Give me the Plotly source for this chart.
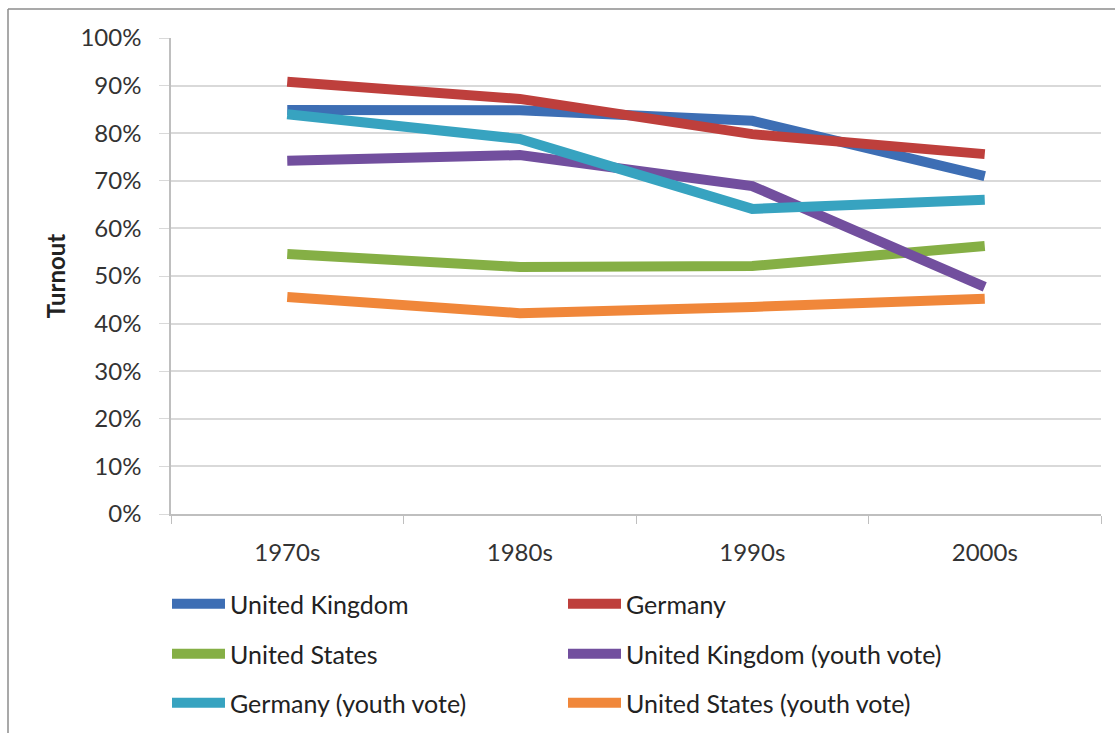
import plotly.graph_objects as go

decades = ["1970s", "1980s", "1990s", "2000s"]
uk = [0.849, 0.848, 0.826, 0.710]
germany = [0.908, 0.872, 0.798, 0.756]
us = [0.546, 0.519, 0.521, 0.563]
uk_youth = [0.742, 0.754, 0.689, 0.477]
germany_youth = [0.840, 0.788, 0.641, 0.660]
us_youth = [0.456, 0.422, 0.435, 0.452]

series_names = ["United Kingdom", "Germany", "United States",
                "United Kingdom (youth vote)", "Germany (youth vote)",
                "United States (youth vote)"]
series_values = [uk, germany, us, uk_youth, germany_youth, us_youth]
colors = ["#3D6EB4", "#BE3F3C", "#85AF45", "#724F9E", "#37A3C0", "#F0873A"]
legend_ids = ["legend", "legend", "legend2", "legend2", "legend3", "legend3"]

FONT = "Lato"
W, H = 1115, 733
L, R, T, B = 171, 14, 38, 219
pw = W - L - R
ph = H - T - B

def px_x(px):
    return (px - L) / pw

def px_y(py):
    return (H - B - py) / ph

fig = go.Figure()
for name, vals, c, lg in zip(series_names, series_values, colors, legend_ids):
    fig.add_trace(go.Scatter(
        x=decades, y=vals, name=name, mode="lines",
        line=dict(color=c, width=10), legend=lg,
    ))

leg_common = dict(orientation="h", xanchor="left", yanchor="middle",
                  xref="container", yref="container",
                  entrywidth=328, entrywidthmode="pixels", itemwidth=53,
                  font=dict(family=FONT, size=25, color="#222222"),
                  bgcolor="rgba(0,0,0,0)", traceorder="normal")
row_y = [604, 654, 703]
leg_x = 167 / W

fig.update_layout(
    width=W, height=H,
    margin=dict(l=L, r=R, t=T, b=B, autoexpand=False),
    paper_bgcolor="white", plot_bgcolor="white",
    font=dict(family=FONT, size=24, color="#333333"),
    showlegend=True,
    legend=dict(x=leg_x, y=(H - row_y[0]) / H, **leg_common),
    legend2=dict(x=leg_x, y=(H - row_y[1]) / H, **leg_common),
    legend3=dict(x=leg_x, y=(H - row_y[2]) / H, **leg_common),
    xaxis=dict(
        range=[-0.5, 3.5], showgrid=False, showline=True,
        linecolor="#BFBFBF", linewidth=1.5, ticks="outside",
        tickson="boundaries", ticklen=8, tickcolor="#BFBFBF",
        tickfont=dict(family=FONT, size=24, color="#333333"),
        ticklabelstandoff=16, zeroline=False,
    ),
    yaxis=dict(
        range=[0, 1.0], tickformat=".0%", dtick=0.1,
        showgrid=True, gridcolor="#D9D9D9", gridwidth=1.5,
        showline=True, linecolor="#BFBFBF", linewidth=1.5,
        ticks="outside", ticklen=10, tickcolor="#D9D9D9",
        tickfont=dict(family=FONT, size=24, color="#333333"),
        ticklabelstandoff=13, zeroline=False,
        title=dict(text="<b>Turnout</b>", standoff=8,
                   font=dict(family=FONT, size=24, color="#222222")),
    ),
    shapes=[
        dict(type="line", xref="paper", yref="paper",
             x0=px_x(8), x1=px_x(8), y0=px_y(9), y1=px_y(740),
             line=dict(color="#8C8C8C", width=1.5)),
        dict(type="line", xref="paper", yref="paper",
             x0=px_x(8), x1=px_x(1120), y0=px_y(9), y1=px_y(9),
             line=dict(color="#8C8C8C", width=1.5)),
    ],
)

fig.write_html("out.html", config={"displayModeBar": False},
               post_script="document.body.style.margin='0px';")
